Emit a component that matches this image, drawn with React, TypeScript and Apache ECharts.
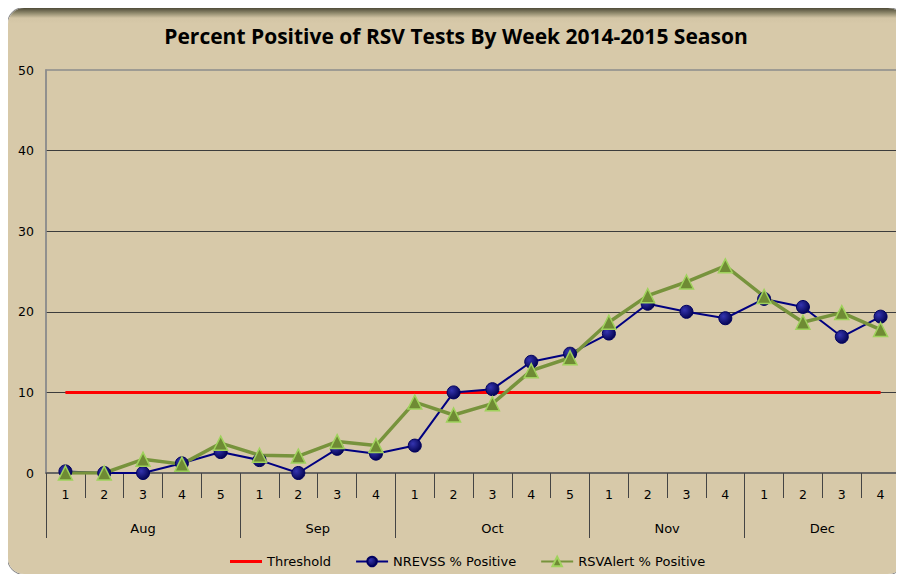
import React, { useEffect, useRef } from "react";
import * as echarts from "echarts";

const weekLabels = ["1","2","3","4","5","1","2","3","4","1","2","3","4","5","1","2","3","4","1","2","3","4"];
const monthNames = ["Aug","Sep","Oct","Nov","Dec"];
const monthBoundaries = [0, 5, 9, 14, 18, 22];
const monthCenters = [2.5, 7, 11.5, 16, 20];
const threshold = [10,10,10,10,10,10,10,10,10,10,10,10,10,10,10,10,10,10,10,10,10,10];
const nrevss = [0.2,0,0,1.2,2.6,1.6,0,3.0,2.4,3.4,10.0,10.4,13.8,14.8,17.3,21.0,20.0,19.2,21.6,20.6,16.9,19.4];
const rsvAlert = [0,0,1.7,1.1,3.7,2.2,2.1,3.9,3.4,8.8,7.2,8.6,12.7,14.3,18.7,22.0,23.7,25.7,21.9,18.7,19.9,17.8];

const FONT = "DejaVu Sans";

export default function App() {
  const ref = useRef<HTMLDivElement>(null);
  useEffect(() => {
    if (!ref.current) return;
    const chart = echarts.init(ref.current, null, { renderer: "svg" });
    chart.setOption({
      animation: false,
      title: {
        text: "Percent Positive of RSV Tests By Week 2014-2015 Season",
        left: "center",
        top: 12,
        textStyle: { fontFamily: "Open Sans", fontWeight: "bold", fontSize: 21, color: "#000" },
      },
      legend: {
        left: 217,
        top: 542,
        itemWidth: 32,
        itemHeight: 12,
        itemGap: 24,
        textStyle: { fontFamily: FONT, fontSize: 13, color: "#000" },
        data: [
          { name: "Threshold", icon: "path://M0,0 L0,0.01 M0,4.5 L32,4.5 L32,7.5 L0,7.5 Z M32,12 L32,11.99" },
          "NREVSS % Positive",
          "RSVAlert % Positive",
        ],
      },
      grid: { left: 38, right: 4, top: 62, bottom: 101, show: true, borderColor: "#8c8c8c", borderWidth: 1.5, backgroundColor: "transparent" },
      xAxis: [
        {
          type: "category",
          data: weekLabels,
          boundaryGap: true,
          axisLine: { show: true, lineStyle: { color: "#555", width: 1.5 } },
          axisTick: { show: true, interval: 0, length: 25, lineStyle: { color: "#444" } },
          axisLabel: { interval: 0, margin: 15, fontFamily: FONT, fontSize: 12.5, color: "#000" },
          splitLine: { show: false },
        },
        {
          type: "value",
          min: 0,
          max: 22,
          position: "bottom",
          axisLine: { show: false },
          axisTick: { show: true, customValues: monthBoundaries, length: 65, lineStyle: { color: "#444" } },
          axisLabel: {
            show: true,
            customValues: monthCenters,
            margin: 49,
            fontFamily: FONT,
            fontSize: 13,
            color: "#000",
            formatter: (v: number) => {
              const i = monthCenters.indexOf(v);
              return i >= 0 ? monthNames[i] : "";
            },
          },
          splitLine: { show: false },
        },
      ],
      yAxis: {
        type: "value",
        min: 0,
        max: 50,
        interval: 10,
        axisLine: { show: true, lineStyle: { color: "#8c8c8c", width: 1.5 } },
        axisTick: { show: false },
        axisLabel: { margin: 12, fontFamily: FONT, fontSize: 12.5, color: "#000" },
        splitLine: { show: true, showMaxLine: false, showMinLine: false, lineStyle: { color: "#3c3c3c", width: 1 } },
      },
      series: [
        {
          name: "Threshold",
          type: "line",
          data: threshold,
          symbol: "none",
          lineStyle: { color: "#ff0000", width: 3 },
          itemStyle: { color: "#ff0000" },
        },
        {
          name: "NREVSS % Positive",
          type: "line",
          data: nrevss,
          symbol: "circle",
          symbolSize: 13,
          lineStyle: { color: "#000080", width: 2 },
          itemStyle: {
            color: new echarts.graphic.RadialGradient(0.35, 0.35, 0.75, [
              { offset: 0, color: "#3434b0" },
              { offset: 1, color: "#00004a" },
            ]),
            borderColor: "#000060",
            borderWidth: 1,
          },
        },
        {
          name: "RSVAlert % Positive",
          type: "line",
          data: rsvAlert,
          symbol: "triangle",
          symbolSize: 14,
          lineStyle: { color: "#77933c", width: 3.5 },
          itemStyle: { color: "#6f8b34", borderColor: "#9fd25c", borderWidth: 1.5 },
        },
      ],
    });
    return () => chart.dispose();
  }, []);
  return (
    <div
      ref={ref}
      style={{
        width: 896,
        height: 566,
        borderRadius: 16,
        background: "linear-gradient(to bottom, #4f4b38 0px, #8f896c 5px, #d3c5a5 10px, #d7c9a9 16px)",
        boxShadow: "0 0 0 1px #8a8a8a",
      }}
    />
  );
}
